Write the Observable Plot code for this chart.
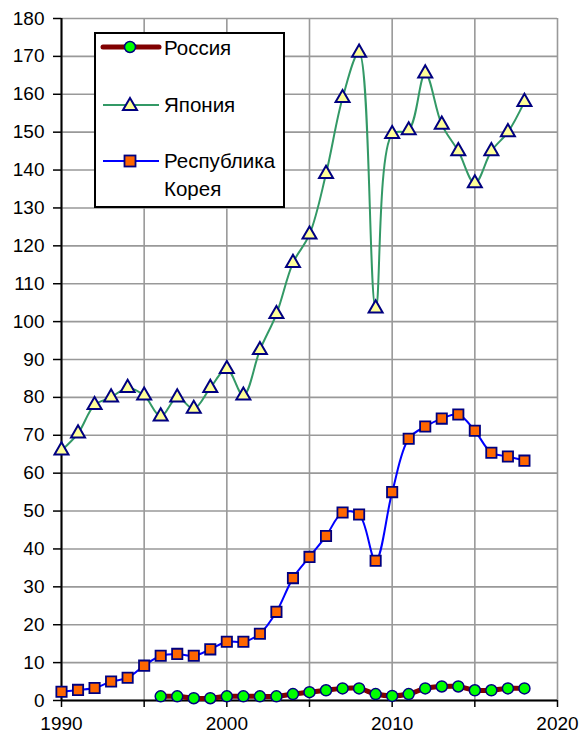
<!DOCTYPE html>
<html><head><meta charset="utf-8">
<script src="https://cdn.jsdelivr.net/npm/d3@7"></script>
<script src="https://cdn.jsdelivr.net/npm/@observablehq/plot@0.6"></script>
<style>
body{margin:0;background:#fff;font-family:"Liberation Sans",Arial,sans-serif}
#wrap{position:relative;width:582px;height:738px}
#legend{position:absolute;left:94px;top:32px;width:187px;height:172px;border:2px solid #000;background:#fff}
#legend svg{position:absolute;left:0;top:0}
.lt{position:absolute;left:68px;font-size:20.5px;color:#000;line-height:27px;white-space:nowrap}
</style>
</head><body><div id="wrap"></div>
<script>
const years = [1990,1991,1992,1993,1994,1995,1996,1997,1998,1999,2000,2001,2002,2003,2004,2005,2006,2007,2008,2009,2010,2011,2012,2013,2014,2015,2016,2017,2018];
const japan = [66,70.5,78,80,82.5,80.5,75,80,77,82.5,87.5,80.5,92.5,102,115.5,123,139,159,171,103.5,149.5,150.5,165.5,152,145,136.5,145,150,158];
const korea = [2.3,2.8,3.3,5,6,9.2,11.8,12.3,11.8,13.5,15.5,15.5,17.6,23.4,32.3,37.9,43.4,49.6,49.1,36.9,55,69.1,72.3,74.4,75.5,71.2,65.4,64.4,63.3];
const russiaYears = [1996,1997,1998,1999,2000,2001,2002,2003,2004,2005,2006,2007,2008,2009,2010,2011,2012,2013,2014,2015,2016,2017,2018];
const russia = [1.1,1.1,0.6,0.6,1.1,1.1,1.1,1.1,1.7,2.2,2.7,3.2,3.2,1.7,1.2,1.7,3.2,3.7,3.7,2.7,2.7,3.2,3.2];
const seriesNames = ["Россия","Япония","Республика","Корея"];
const yTicks = [0,10,20,30,40,50,60,70,80,90,100,110,120,130,140,150,160,170,180];
const xTicks = [1990,1995,2000,2005,2010,2015,2020];
const xLabels = [1990,2000,2010,2020];

const jp = years.map((y,i)=>({year:y,value:japan[i]}));
const kr = years.map((y,i)=>({year:y,value:korea[i]}));
const ru = russiaYears.map((y,i)=>({year:y,value:russia[i]}));

const navy = "#000080";
const chart = Plot.plot({
  width:582, height:738,
  marginLeft:61, marginRight:25, marginTop:18, marginBottom:38,
  style:{fontFamily:"Liberation Sans, Arial, sans-serif", fontSize:"19px", color:"#000", background:"#fff"},
  x:{domain:[1990,2020], label:null},
  y:{domain:[0,180], label:null},
  marks:[
    Plot.gridY(yTicks,{stroke:"#999",strokeOpacity:1,strokeWidth:1.6}),
    Plot.gridX(xTicks,{stroke:"#999",strokeOpacity:1,strokeWidth:1.6}),
    Plot.axisY({ticks:yTicks,tickSize:8,tickPadding:9,fontSize:19,stroke:"#000",strokeWidth:1.5,label:null}),
    Plot.axisX({ticks:xTicks,tickSize:7,tickPadding:9,fontSize:19,stroke:"#000",strokeWidth:1.5,label:null,tickFormat:d=>xLabels.includes(d)?String(d):""}),
    Plot.ruleY([0],{stroke:"#000",strokeWidth:2}),
    Plot.ruleX([1990],{stroke:"#000",strokeWidth:2}),
    Plot.line(ru,{x:"year",y:"value",stroke:"#800000",strokeWidth:5,curve:"catmull-rom"}),
    Plot.line(jp,{x:"year",y:"value",stroke:"#339966",strokeWidth:2,curve:"catmull-rom"}),
    Plot.line(kr,{x:"year",y:"value",stroke:"#0000ff",strokeWidth:2,curve:"catmull-rom"}),
    Plot.dot(ru,{x:"year",y:"value",r:5.5,fill:"#00ff00",stroke:navy,strokeWidth:1.5}),
    Plot.dot(jp,{x:"year",y:"value",symbol:"triangle",r:5.2,fill:"#ffff99",stroke:navy,strokeWidth:2}),
    Plot.dot(kr,{x:"year",y:"value",symbol:"square",r:5.8,fill:"#ff6600",stroke:navy,strokeWidth:1.8})
  ]
});
const wrap = document.getElementById("wrap");
wrap.appendChild(chart);

// legend
const lg = document.createElement("div");
lg.id = "legend";
lg.innerHTML = `<svg width="187" height="172">
  <line x1="7" x2="63" y1="13" y2="13" stroke="#800000" stroke-width="5" stroke-linecap="round"/>
  <circle cx="34" cy="13" r="5.5" fill="#00ff00" stroke="${navy}" stroke-width="1.5"/>
  <line x1="7" x2="63" y1="71" y2="71" stroke="#339966" stroke-width="2"/>
  <path d="M34,64 L41,76 L27,76 Z" fill="#ffff99" stroke="${navy}" stroke-width="2"/>
  <line x1="7" x2="63" y1="127" y2="127" stroke="#0000ff" stroke-width="2"/>
  <rect x="28.5" y="121.5" width="11" height="11" fill="#ff6600" stroke="${navy}" stroke-width="1.8"/>
</svg>
<div class="lt" style="top:0px">${seriesNames[0]}</div>
<div class="lt" style="top:57px">${seriesNames[1]}</div>
<div class="lt" style="top:113px">${seriesNames[2]}</div>
<div class="lt" style="top:141px">${seriesNames[3]}</div>`;
wrap.appendChild(lg);
</script>
</body></html>
